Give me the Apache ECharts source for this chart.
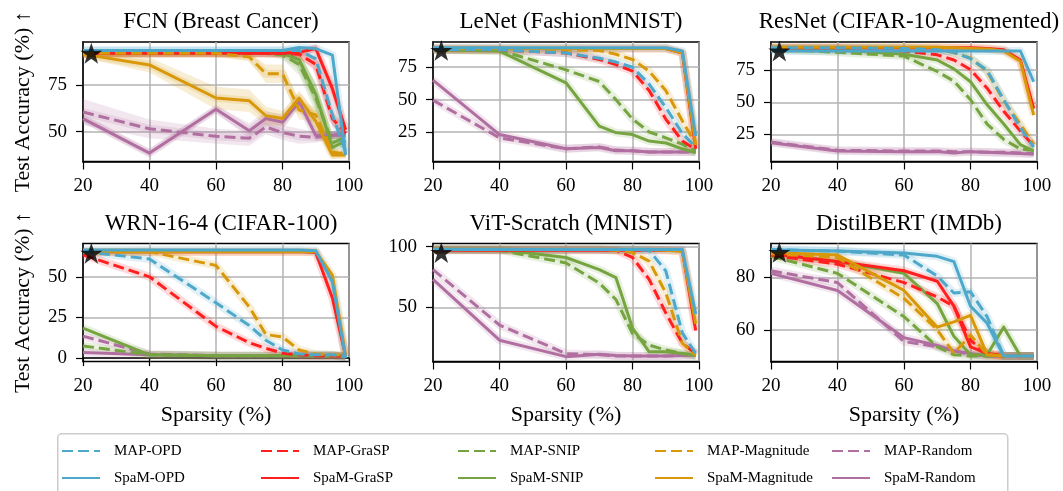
<!DOCTYPE html>
<html>
<head>
<meta charset="utf-8">
<script src="https://cdn.jsdelivr.net/npm/echarts@6/dist/echarts.min.js"></script>
<style>
  html, body { margin: 0; padding: 0; background: #ffffff; }
  #chart { width: 1063px; height: 491px; }
</style>
</head>
<body>
<div id="chart"></div>
<script>
// ---- data -------------------------------------------------------------
const sparsity = [20, 40, 60, 70, 75, 80, 85, 90, 95, 99];
const xTicks = [20, 40, 60, 80, 100];
const methods = ['OPD', 'GraSP', 'SNIP', 'Magnitude', 'Random'];
const methodColors = ['#4ea8ca', '#ff1f1f', '#76a440', '#d8980a', '#b06fa0'];

const titles = [
  'FCN (Breast Cancer)', 'LeNet (FashionMNIST)', 'ResNet (CIFAR-10-Augmented)',
  'WRN-16-4 (CIFAR-100)', 'ViT-Scratch (MNIST)', 'DistilBERT (IMDb)'
];
const yTicks = [[50, 75], [25, 50, 75], [25, 50, 75], [0, 25, 50], [50, 100], [60, 80]];
const yLimits = [[34, 98], [2.2, 94.5], [3.8, 97], [-2.1, 70.5], [5.5, 102.5], [47.9, 92.9]];

// dense-model accuracy marker (star)
const denseSparsity = 22.5;
const denseAccuracy = [92, 88, 90, 64.5, 95, 89.5];

const fcn = {
  'MAP-OPD':        [93.5, 93.5, 93.5, 93.5, 93.5, 93.5, 93.5, 89, 59, 39],
  'SpaM-OPD':       [93.5, 93.5, 93.5, 93.5, 93.5, 93.5, 95, 94.5, 91, 37.5],
  'MAP-GraSP':      [92, 92, 92, 92, 92, 92, 91.5, 86, 57, 49],
  'SpaM-GraSP':     [92, 92, 92, 92, 92, 92, 92.5, 94.5, 73, 51],
  'MAP-SNIP':       [92, 92, 92, 92, 92, 91, 86, 68, 44, 47],
  'SpaM-SNIP':      [92, 92, 92, 92, 92, 92, 88.5, 70, 41.5, 45],
  'MAP-Magnitude':  [92, 92, 92, 90, 81, 81, 61.5, 59, 39, 38],
  'SpaM-Magnitude': [91.5, 85.7, 68, 66.5, 58.5, 57, 68, 55.5, 37.5, 37.5],
  'MAP-Random':     [60.5, 51.5, 47.5, 46.5, 52.5, 49.5, 47.5, 47, 48, 49],
  'SpaM-Random':    [57, 38.5, 62, 50.5, 57, 55, 66, 48, 48, 48]
};
// run-to-run spread (half width) shown as shaded bands for the FCN panel
const fcnSpread = {
  'MAP-GraSP':      [1, 1, 1, 1, 1, 1, 2, 4, 4, 2],
  'SpaM-GraSP':     [1, 1, 1, 1, 1, 1, 1, 2, 4, 3],
  'MAP-SNIP':       [1, 1, 1, 1, 1, 2, 6, 8, 4, 2],
  'SpaM-SNIP':      [1, 1, 1, 1, 1, 1, 4, 6, 4, 2],
  'MAP-Magnitude':  [1.5, 1.5, 1.5, 2, 5, 5, 5, 4, 2, 1],
  'SpaM-Magnitude': [2, 4, 6, 6, 5, 4, 4, 5, 2, 1],
  'MAP-Random':     [7, 5, 4, 4, 4, 4, 4, 3, 2, 2],
  'SpaM-Random':    [2, 2, 2, 4, 4, 4, 3, 3, 2, 2]
};
const lenet = {
  'MAP-OPD':        [88.5, 88.5, 86, 82, 79, 75, 62, 44, 24, 13],
  'SpaM-OPD':       [90, 90, 90, 90, 90, 90, 90, 90, 87.5, 22],
  'MAP-GraSP':      [88.5, 88.5, 86, 81, 77, 72, 57, 35, 18, 11.5],
  'SpaM-GraSP':     [89.5, 89.5, 89.5, 89.5, 89.5, 89.5, 89.5, 89.5, 86, 12],
  'MAP-SNIP':       [88.5, 88, 73, 64, 50, 35, 25, 20.5, 15.5, 10.5],
  'SpaM-SNIP':      [88.5, 87.5, 63, 29.5, 24.5, 23, 18, 16.5, 12, 9],
  'MAP-Magnitude':  [88.5, 88.5, 88.5, 88, 85, 81, 72, 57, 33.5, 15.5],
  'SpaM-Magnitude': [89.5, 89.5, 89.5, 89.5, 89.5, 89.5, 89.5, 89.5, 86, 15],
  'MAP-Random':     [49.5, 20.5, 12, 13.5, 11, 10.5, 9.5, 9.5, 9.5, 9.5],
  'SpaM-Random':    [65, 23, 12, 13, 10.5, 10.5, 9.5, 9.5, 9.5, 10]
};
const resnet = {
  'MAP-OPD':        [92.5, 92.5, 92, 91, 89, 84, 75, 52, 30, 15],
  'SpaM-OPD':       [90, 90, 90, 90, 90, 90, 90, 90, 90, 66],
  'MAP-GraSP':      [92, 92, 90, 87, 83, 75.5, 61, 43, 27.5, 16],
  'SpaM-GraSP':     [92.5, 92.5, 92.5, 92.5, 92.5, 92.5, 92, 91, 83, 45],
  'MAP-SNIP':       [91.5, 89, 86, 74, 66.5, 52, 33, 21, 13.5, 12.5],
  'SpaM-SNIP':      [91.5, 91, 87.5, 83, 76, 66, 48, 33, 17, 12],
  'MAP-Magnitude':  [92.5, 92.5, 92.5, 92, 88.5, 84.5, 74, 51, 33, 17],
  'SpaM-Magnitude': [93, 93, 93, 93, 92.5, 92, 91.5, 90, 82, 40],
  'MAP-Random':     [19, 12.5, 12, 12, 11.5, 11.5, 11, 11, 10.5, 10],
  'SpaM-Random':    [18.5, 12, 11.5, 11.5, 10.5, 11.5, 11, 10.5, 10, 9.5]
};
const wrn = {
  'MAP-OPD':        [65.5, 61, 34, 20, 11, 5, 2.5, 2, 2, 1],
  'SpaM-OPD':       [66.5, 66.5, 66.5, 66.5, 66.5, 66.5, 66.5, 66, 47, 0],
  'MAP-GraSP':      [63.5, 50, 19.5, 9.5, 6, 3, 2, 1.5, 1.5, 1],
  'SpaM-GraSP':     [65.5, 65.5, 65.5, 65.5, 65.5, 65.5, 65.5, 65, 37, 1],
  'MAP-SNIP':       [7.5, 2, 1.5, 1.5, 1.5, 1.5, 1.5, 1.5, 1.5, 1],
  'SpaM-SNIP':      [18.5, 2, 1.5, 1.5, 1.5, 1.5, 1.5, 1.5, 1.5, 1],
  'MAP-Magnitude':  [65, 65.5, 57, 31.5, 14.5, 13, 5, 2.5, 2, 2],
  'SpaM-Magnitude': [65.5, 65.5, 65.5, 65.5, 65.5, 65.5, 65.5, 65.5, 51, 1.5],
  'MAP-Random':     [13.5, 2.5, 1.5, 1.5, 1.5, 1.5, 1.5, 1.5, 1.5, 1],
  'SpaM-Random':    [3.5, 2, 1.5, 1.5, 1.5, 1.5, 1.5, 1.5, 1.5, 1]
};
const vit = {
  'MAP-OPD':        [97.5, 97.5, 97.5, 97.5, 97.5, 97.5, 97, 80, 29, 12],
  'SpaM-OPD':       [97.5, 97.5, 97.5, 97.5, 97.5, 97.5, 97.5, 97.5, 97.5, 44.5],
  'MAP-GraSP':      [97.5, 97.5, 97.5, 97.5, 97, 91, 73, 45.5, 20.5, 12],
  'SpaM-GraSP':     [97, 97, 97, 97, 97, 97, 97, 97, 96.5, 31],
  'MAP-SNIP':       [97.5, 97, 86.5, 70, 56.5, 28.5, 19, 15, 12, 10.5],
  'SpaM-SNIP':      [97.5, 97.5, 91, 81, 74.5, 33, 13.5, 13.5, 12, 10.5],
  'MAP-Magnitude':  [97.5, 97.5, 97.5, 97.5, 97, 95, 88, 62, 20.5, 10.5],
  'SpaM-Magnitude': [97.5, 97.5, 97.5, 97.5, 97.5, 97.5, 97.5, 97, 96, 36.5],
  'MAP-Random':     [81, 35.5, 12, 11, 10, 10, 10, 10, 10.5, 10.5],
  'SpaM-Random':    [73, 23, 9.5, 11.5, 10.5, 10, 10, 10, 10.5, 10.5]
};
const distilbert = {
  'MAP-OPD':        [90.5, 90, 88.5, 80.5, 74, 74.5, 65, 50, 50, 50],
  'SpaM-OPD':       [90.5, 90, 89.3, 88, 86, 69, 62.5, 50, 50, 50],
  'MAP-GraSP':      [88.5, 85, 78, 72.5, 69, 56, 51, 50, 50, 50],
  'SpaM-GraSP':     [89, 86, 82.5, 78.5, 69, 53.5, 51, 50, 50, 50],
  'MAP-SNIP':       [88, 81.5, 65, 53.5, 50.5, 50, 50, 50, 50, 50],
  'SpaM-SNIP':      [89, 86, 81.5, 70, 57.5, 50.5, 50.5, 61, 50, 50],
  'MAP-Magnitude':  [89, 87.5, 72, 60, 51, 58, 50.5, 50, 50, 50],
  'SpaM-Magnitude': [89.5, 88.5, 75, 61, 63, 65.5, 50.5, 50, 50, 50],
  'MAP-Random':     [82.5, 78, 55.5, 53.5, 52, 50.5, 50, 50, 50, 50],
  'SpaM-Random':    [81.5, 75, 57, 54, 52, 51, 50, 50, 50, 50]
};

const panels = [fcn, lenet, resnet, wrn, vit, distilbert];
const spreads = [fcnSpread, null, null, null, null, null];

// ---- layout -----------------------------------------------------------
const SERIF = '"Liberation Serif", "Times New Roman", Times, serif';
const colLeft = [83, 433, 771];
const rowTop = [42, 243.5];
const plotW = 266;
const plotH = [119.5, 118];
const legendLeft = [61, 260, 457, 654, 831];

const STAR = 'path://M50,0 L61.8,35.1 L98.9,35.1 L68.8,57.1 L80.2,92.7 L50,70.8 L19.8,92.7 L31.2,57.1 L1.1,35.1 L38.2,35.1 Z';

// draw order: later entries end up on top
const zOrder = ['Random', 'SNIP', 'GraSP', 'Magnitude', 'OPD'];
const drawOrder = [];
zOrder.forEach(m => {
  const col = methodColors[methods.indexOf(m)];
  drawOrder.push({ name: 'MAP-' + m, color: col, dashed: true });
  drawOrder.push({ name: 'SpaM-' + m, color: col, dashed: false });
});

const grids = [], xAxes = [], yAxes = [], titleList = [];
panels.forEach((p, i) => {
  const r = Math.floor(i / 3), c = i % 3;
  grids.push({
    left: colLeft[c], top: rowTop[r], width: plotW, height: plotH[r],
    show: true, borderColor: '#000', borderWidth: 1.5, backgroundColor: 'transparent'
  });
  xAxes.push({
    type: 'value', gridIndex: i, min: 20, max: 100, interval: 20,
    axisLine: { show: true, lineStyle: { color: '#000', width: 1.5 } },
    axisTick: { show: true, length: 8, inside: false, lineStyle: { color: '#000', width: 1.2 } },
    axisLabel: { color: '#000', fontFamily: SERIF, fontSize: 19, margin: 15 },
    splitLine: { show: true, lineStyle: { color: '#b3b3b3', width: 1.5 } },
    name: r === 1 ? 'Sparsity (%)' : '',
    nameLocation: 'middle', nameGap: 43,
    nameTextStyle: { color: '#000', fontFamily: SERIF, fontSize: 22 }
  });
  yAxes.push({
    type: 'value', gridIndex: i, min: yLimits[i][0], max: yLimits[i][1],
    axisLine: { show: true, lineStyle: { color: '#000', width: 1.5 } },
    axisTick: { show: true, length: 7, inside: false, customValues: yTicks[i],
                lineStyle: { color: '#000', width: 1.2 } },
    axisLabel: { color: '#000', fontFamily: SERIF, fontSize: 19, margin: 16, customValues: yTicks[i] },
    splitLine: { show: true, lineStyle: { color: '#b3b3b3', width: 1.5 } },
    name: c === 0 ? 'Test Accuracy (%) \u2191' : '',
    nameLocation: 'middle', nameGap: 49, nameRotate: 90,
    nameTextStyle: { color: '#000', fontFamily: SERIF, fontSize: 22 }
  });
  titleList.push({
    text: titles[i], left: colLeft[c] + plotW / 2, top: r === 0 ? 5 : 207, textAlign: 'center',
    textStyle: { color: '#000', fontFamily: SERIF, fontSize: 23, fontWeight: 'normal' }
  });
});

const series = [];
const pairs = (vals) => sparsity.map((x, k) => [x, vals[k]]);

// shaded spread bands (polygon between mean - spread and mean + spread)
panels.forEach((p, i) => {
  const sp = spreads[i];
  if (!sp) return;
  drawOrder.forEach(d => {
    if (!sp[d.name]) return;
    const mean = p[d.name], half = sp[d.name];
    series.push({
      type: 'custom', name: d.name + ' band', xAxisIndex: i, yAxisIndex: i,
      silent: true, clip: true,
      data: [[sparsity[0], mean[0]]],
      renderItem: (params, api) => {
        const upper = sparsity.map((x, k) => api.coord([x, mean[k] + half[k]]));
        const lower = sparsity.map((x, k) => api.coord([x, mean[k] - half[k]])).reverse();
        return {
          type: 'polygon',
          shape: { points: upper.concat(lower) },
          style: { fill: d.color, opacity: 0.17 }
        };
      }
    });
  });
});

// soft halo under each curve (narrow spread)
panels.forEach((p, i) => {
  drawOrder.forEach(d => {
    series.push({
      type: 'line', name: d.name + ' halo', xAxisIndex: i, yAxisIndex: i,
      data: pairs(p[d.name]), symbol: 'none', silent: true,
      lineStyle: { color: d.color, width: 8, opacity: 0.17, join: 'round' }
    });
  });
});

// main curves
panels.forEach((p, i) => {
  drawOrder.forEach(d => {
    series.push({
      type: 'line', name: d.name, xAxisIndex: i, yAxisIndex: i,
      data: pairs(p[d.name]), symbol: 'none', silent: true,
      itemStyle: { color: d.color },
      lineStyle: { color: d.color, width: 3, type: d.dashed ? [11, 5] : 'solid', join: 'round', cap: 'butt' }
    });
  });
});

// dense-model star markers
panels.forEach((p, i) => {
  series.push({
    type: 'scatter', name: 'dense', xAxisIndex: i, yAxisIndex: i, clip: false,
    data: [[denseSparsity, denseAccuracy[i]]], symbol: STAR, symbolSize: 22, symbolKeepAspect: true,
    itemStyle: { color: '#000' }, silent: true, z: 5
  });
});

const legends = methods.map((m, k) => ({
  data: ['MAP-' + m, 'SpaM-' + m],
  orient: 'vertical', left: legendLeft[k], top: 443,
  padding: 0, itemWidth: 38, itemHeight: 12, itemGap: 11,
  itemStyle: { opacity: 0 },
  textStyle: { color: '#000', fontFamily: SERIF, fontSize: 15, lineHeight: 16, padding: [0, 0, 0, 9] },
  selectedMode: false
}));

const chart = echarts.init(document.getElementById('chart'), null, { renderer: 'canvas' });
chart.setOption({
  animation: false,
  backgroundColor: '#ffffff',
  title: titleList,
  grid: grids,
  xAxis: xAxes,
  yAxis: yAxes,
  legend: legends,
  graphic: [{
    type: 'rect', left: 57, top: 433, z: -1,
    shape: { width: 950, height: 64, r: 4 },
    style: { fill: '#ffffff', stroke: '#cccccc', lineWidth: 1.5 }
  }],
  series
});
</script>
</body>
</html>
